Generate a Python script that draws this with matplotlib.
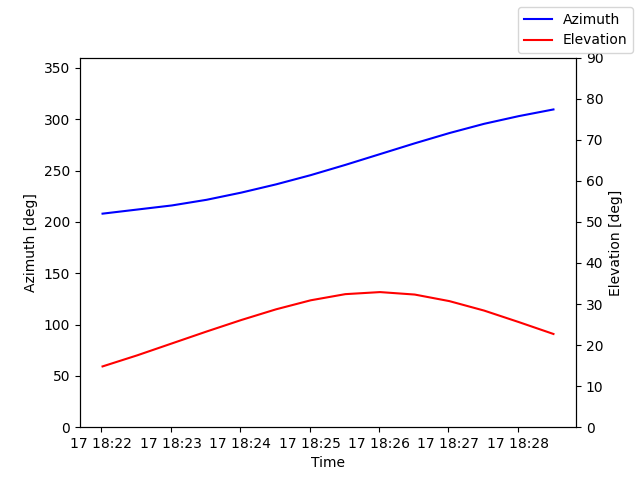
import numpy as np
import pandas as pd
import matplotlib
matplotlib.use('Agg')
import matplotlib.pyplot as plt

# sampled pass, 30 s steps
times = pd.to_datetime([
    '2024-03-17 18:22:01', '2024-03-17 18:22:31', '2024-03-17 18:23:01',
    '2024-03-17 18:23:31', '2024-03-17 18:24:01', '2024-03-17 18:24:31',
    '2024-03-17 18:25:01', '2024-03-17 18:25:31', '2024-03-17 18:26:01',
    '2024-03-17 18:26:31', '2024-03-17 18:27:01', '2024-03-17 18:27:31',
    '2024-03-17 18:28:01', '2024-03-17 18:28:31',
])
azimuth = [208, 212, 216, 221.5, 228.5, 236.5, 245.5, 255.5, 266, 276.5, 286.5, 295.5, 303, 309.5]
elevation = [14.8, 17.5, 20.4, 23.3, 26.1, 28.7, 30.9, 32.4, 32.9, 32.3, 30.7, 28.4, 25.6, 22.7]

fig, ax = plt.subplots(figsize=(6.4, 4.8))
ax.plot(times, azimuth, color='blue', label='Azimuth')
ax.set_ylim(0, 360)
ax.set_xlabel('Time')
ax.set_ylabel('Azimuth [deg]')

ax2 = ax.twinx()
ax2.plot(times, elevation, color='red', label='Elevation')
ax2.set_ylim(0, 90)
ax2.set_ylabel('Elevation [deg]')

fig.legend(loc='upper right')
fig.savefig('out.png', dpi=100)
